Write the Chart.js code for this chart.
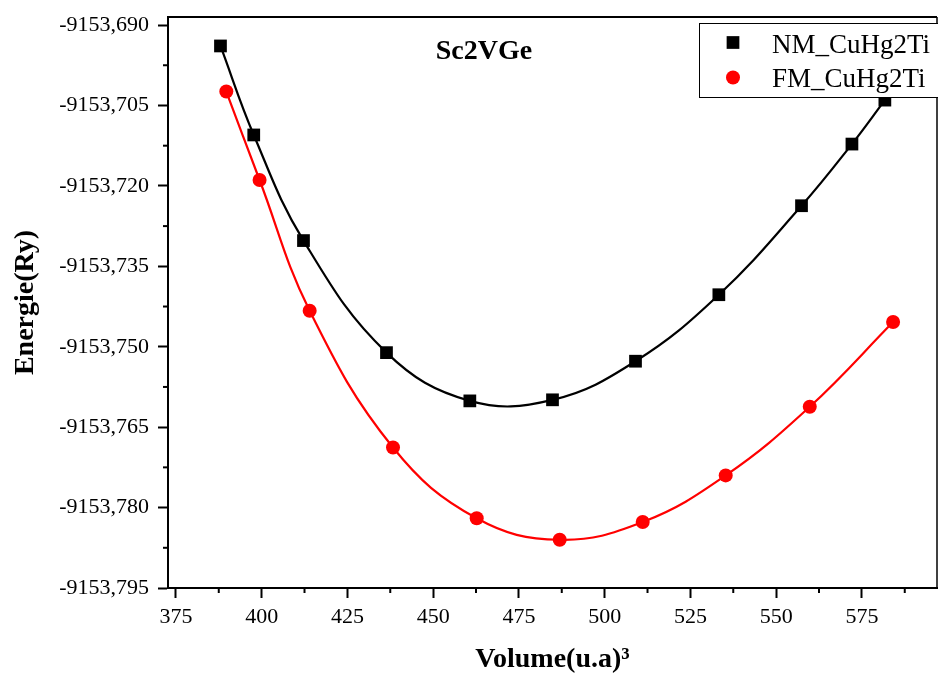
<!DOCTYPE html>
<html><head><meta charset="utf-8">
<script src="https://cdn.jsdelivr.net/npm/chart.js@4.4.1/dist/chart.umd.min.js"></script>
<style>html,body{margin:0;padding:0;background:#fff;}canvas{display:block;}</style>
</head><body>
<canvas id="c" width="938" height="675"></canvas>
<script>
// ---- data ----
const volNM = [388.0, 397.7, 412.2, 436.4, 460.7, 484.8, 509.0, 533.3, 557.4, 572.1, 581.7];
const energyNM = [-9153.6939, -9153.7105, -9153.7302, -9153.7511, -9153.7601, -9153.7599, -9153.7527, -9153.7403, -9153.7237, -9153.7122, -9153.7040];
const volFM = [389.7, 399.4, 414.0, 438.3, 462.7, 486.9, 511.1, 535.3, 559.8, 584.1];
const energyFM = [-9153.7024, -9153.7189, -9153.7433, -9153.7688, -9153.7820, -9153.7860, -9153.7827, -9153.7740, -9153.7612, -9153.7454];
const xTicks = [375, 400, 425, 450, 475, 500, 525, 550, 575];
const yTicks = [-9153.795, -9153.780, -9153.765, -9153.750, -9153.735, -9153.720, -9153.705, -9153.690];
const seriesNames = ['NM_CuHg2Ti', 'FM_CuHg2Ti'];
const chartTitle = 'Sc2VGe';
const xTitle = 'Volume(u.a)\u00B3';
const yTitle = 'Energie(Ry)';

const SERIF = '"Liberation Serif", "Times New Roman", serif';
Chart.defaults.font.family = SERIF;
Chart.defaults.color = '#000';

function pts(xs, ys) { return xs.map((x, i) => ({ x: x, y: ys[i] })); }

const decor = {
  id: 'decor',
  afterDatasetsDraw(chart) {
    const ctx = chart.ctx, a = chart.chartArea;
    const xs = chart.scales.x, ys = chart.scales.y;
    ctx.save();
    ctx.strokeStyle = '#000';
    // top and right frame
    ctx.lineWidth = 2;
    ctx.beginPath(); ctx.moveTo(a.left, a.top); ctx.lineTo(a.right, a.top); ctx.stroke();
    ctx.lineWidth = 1.5;
    ctx.beginPath(); ctx.moveTo(a.right, a.top); ctx.lineTo(a.right, a.bottom); ctx.stroke();
    // minor ticks
    ctx.lineWidth = 2;
    for (let i = 0; i < xTicks.length; i++) {
      const v = xTicks[i] + (xTicks[1] - xTicks[0]) / 2;
      if (v > xs.max) continue;
      const px = xs.getPixelForValue(v);
      ctx.beginPath(); ctx.moveTo(px, a.bottom); ctx.lineTo(px, a.bottom + 5); ctx.stroke();
    }
    for (let i = 0; i < yTicks.length; i++) {
      const v = yTicks[i] + (yTicks[1] - yTicks[0]) / 2;
      if (v > ys.max) continue;
      const py = ys.getPixelForValue(v);
      ctx.beginPath(); ctx.moveTo(a.left, py); ctx.lineTo(a.left - 5, py); ctx.stroke();
    }
    // chart title inside plot
    ctx.fillStyle = '#000';
    ctx.font = 'bold 28px ' + SERIF;
    ctx.textAlign = 'center';
    ctx.textBaseline = 'alphabetic';
    ctx.fillText(chartTitle, 484, 59);
    // legend box
    const bx = 699, by = 23, bw = 260, bh = 74;
    ctx.fillStyle = '#fff';
    ctx.fillRect(bx, by, bw, bh);
    ctx.lineWidth = 1;
    ctx.strokeStyle = '#000';
    ctx.strokeRect(bx + 0.5, by + 0.5, bw, bh);
    const rows = [42.5, 77.5];
    const bases = [53, 87];
    chart.data.datasets.forEach((ds, i) => {
      ctx.fillStyle = ds.pointBackgroundColor;
      ctx.strokeStyle = ds.pointBorderColor;
      Chart.helpers.drawPoint(ctx, { pointStyle: ds.pointStyle, radius: ds.pointRadius, borderWidth: 0, rotation: 0 }, 733, rows[i]);
      ctx.fillStyle = '#000';
      ctx.font = '27px ' + SERIF;
      ctx.textAlign = 'left';
      ctx.fillText(ds.label, 772, bases[i]);
    });
    ctx.restore();
  }
};

new Chart(document.getElementById('c'), {
  type: 'scatter',
  data: {
    datasets: [
      {
        label: seriesNames[0], data: pts(volNM, energyNM), showLine: true, tension: 0.4,
        borderColor: '#000', borderWidth: 2.2, pointStyle: 'rect', pointRadius: 9,
        pointBackgroundColor: '#000', pointBorderColor: '#000', pointBorderWidth: 0
      },
      {
        label: seriesNames[1], data: pts(volFM, energyFM), showLine: true, tension: 0.4,
        borderColor: '#ff0000', borderWidth: 2.2, pointStyle: 'circle', pointRadius: 7,
        pointBackgroundColor: '#ff0000', pointBorderColor: '#ff0000', pointBorderWidth: 0
      }
    ]
  },
  options: {
    responsive: false, animation: false, devicePixelRatio: 1,
    layout: { autoPadding: false, padding: { top: 17, right: 1, left: 0, bottom: 0 } },
    plugins: { legend: { display: false }, tooltip: { enabled: false } },
    scales: {
      x: {
        type: 'linear', min: 372.7, max: 596.9,
        afterBuildTicks: s => { s.ticks = xTicks.map(v => ({ value: v })); },
        afterFit: s => { s.height = 87; s.paddingLeft = 0; s.paddingRight = 0; },
        ticks: { font: { size: 22 }, padding: 6, maxRotation: 0, autoSkip: false, color: '#000' },
        grid: { drawOnChartArea: false, drawTicks: true, tickLength: 10, tickColor: '#000', tickWidth: 2 },
        border: { display: true, color: '#000', width: 2 },
        title: { display: true, text: xTitle, font: { size: 28, weight: 'bold' }, color: '#000', padding: { top: 0, bottom: -2 } }
      },
      y: {
        type: 'linear', min: -9153.795, max: -9153.6885,
        afterBuildTicks: s => { s.ticks = yTicks.map(v => ({ value: v })); },
        afterFit: s => { s.width = 168; s.paddingTop = 0; s.paddingBottom = 0; },
        ticks: { font: { size: 22 }, padding: 9, autoSkip: false, color: '#000',
          callback: v => Number(v).toFixed(3).replace('.', ',') },
        grid: { drawOnChartArea: false, drawTicks: true, tickLength: 10, tickColor: '#000', tickWidth: 2 },
        border: { display: true, color: '#000', width: 2 },
        title: { display: true, text: yTitle, font: { size: 28, weight: 'bold' }, color: '#000', padding: { top: 9, bottom: 0 } }
      }
    }
  },
  plugins: [decor]
});
</script>
</body></html>
